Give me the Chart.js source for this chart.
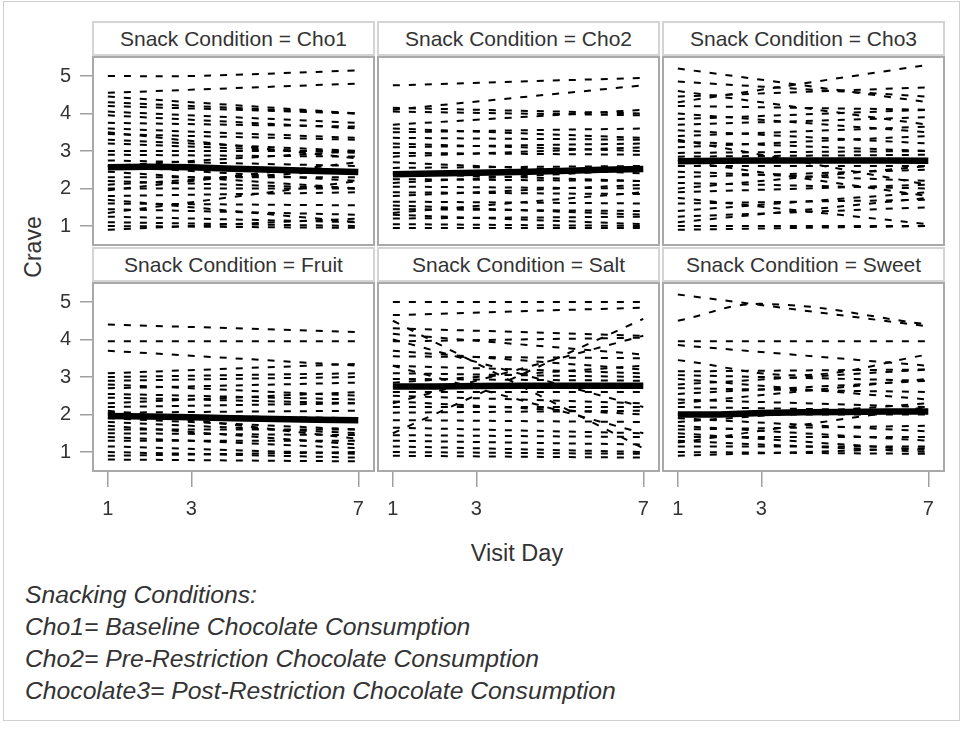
<!DOCTYPE html>
<html>
<head>
<meta charset="utf-8">
<script src="https://cdn.jsdelivr.net/npm/chart.js@4/dist/chart.umd.min.js"></script>
<style>
  body { margin: 0; background: #fff; font-family: "Liberation Sans", Arial, sans-serif; color: #333; }
  #page { position: relative; width: 964px; height: 729px; overflow: hidden; }
  #frame { position: absolute; left: 3px; top: 1px; width: 957px; height: 720px; border: 1px solid #d0d0d0; box-sizing: border-box; }
  .hdr { position: absolute; box-sizing: border-box; border: 2px solid #d4d4d4; background: #fff;
         text-align: center; font-size: 21px; }
  .cell { position: absolute; }
  #ylab { position: absolute; left: 33px; top: 247px; font-size: 23px; transform: translate(-50%, -50%) rotate(-90deg); white-space: nowrap; }
  #xlab { position: absolute; left: 517px; top: 553px; font-size: 23.5px; transform: translate(-50%, -50%); white-space: nowrap; }
  #notes { position: absolute; left: 25px; top: 579px; font-size: 24.7px; font-style: italic; line-height: 32px; }
</style>
</head>
<body>
<div id="page">
  <div id="frame"></div>
  <div id="ylab">Crave</div>
  <div id="xlab">Visit Day</div>
  <div id="notes">
    Snacking Conditions:<br>
    Cho1= Baseline Chocolate Consumption<br>
    Cho2= Pre-Restriction Chocolate Consumption<br>
    Chocolate3= Post-Restriction Chocolate Consumption
  </div>
</div>
<script>
const visitDays = [1, 2, 3, 4, 5, 6, 7];
const dayTicks = [1, 3, 7];
const craveTicks = [1, 2, 3, 4, 5];
const conditions = ["Cho1", "Cho2", "Cho3", "Fruit", "Salt", "Sweet"];

// one subject per pair: crave on day 1, crave on day 7
const cho1Lines = [[4.55,4.8],[4.45,4.0],[4.3,4.0],[4.2,4.0],[4.05,3.75],[3.95,3.6],[3.75,3.65],
  [3.6,3.35],[3.45,3.3],[3.3,3.0],[3.2,2.95],[3.0,3.0],[2.9,2.85],[2.75,2.6],[2.6,2.2],[2.45,2.0],
  [2.3,2.3],[2.2,2.0],[2.0,2.0],[1.95,2.7],[1.8,1.9],[1.7,1.1],[1.6,1.55],[1.45,1.3],[1.35,2.2],
  [1.25,1.1],[1.1,1.0],[1.0,0.95],[0.9,1.2],[2.1,2.5],[2.6,3.0],[3.5,2.8]];
const cho2Lines = [[4.75,4.95],[4.1,4.75],[4.15,4.0],[4.05,3.95],[3.7,4.1],[3.6,3.35],[3.5,3.6],
  [3.35,3.3],[3.2,3.0],[3.1,3.2],[2.95,2.9],[2.85,3.1],[2.7,2.4],[2.55,2.6],[2.4,2.2],[2.25,2.2],
  [2.15,2.5],[2.05,2.0],[1.9,1.85],[1.8,2.1],[1.65,1.6],[1.55,1.3],[1.45,1.4],[1.3,1.05],[1.2,1.25],
  [1.05,1.0],[0.95,0.95],[1.35,1.9]];
const cho3Lines = [[5.2,4.3],[4.3,5.3],[4.85,4.45],[4.6,3.7],[4.45,4.7],[4.2,4.1],[4.0,3.5],
  [3.85,4.1],[3.7,3.9],[3.55,3.2],[3.4,3.65],[3.25,3.0],[3.1,3.4],[2.95,3.0],[2.85,2.9],[2.6,2.6],
  [2.45,2.2],[2.3,2.5],[2.15,2.0],[2.0,2.6],[1.9,2.1],[1.75,1.05],[1.6,1.7],[1.4,1.9],[1.25,1.5],
  [1.1,1.75],[1.0,1.0],[0.9,1.0],[2.75,1.8],[3.3,2.1]];
const fruitLines = [[4.4,4.2],[3.95,3.95],[3.7,3.3],[3.1,3.35],[3.0,3.1],[2.9,3.0],[2.8,2.5],
  [2.7,2.85],[2.55,2.4],[2.45,2.3],[2.3,2.6],[2.2,2.3],[2.05,2.1],[2.0,1.9],[1.9,1.6],[1.8,1.5],
  [1.7,1.2],[1.6,1.6],[1.5,1.45],[1.4,1.1],[1.3,1.3],[1.15,0.95],[1.0,0.85],[0.9,1.0],[0.8,0.75],
  [2.1,1.35]];
const saltLines = [[4.5,1.1],[1.5,4.55],[4.0,2.2],[2.3,4.1],[3.3,1.5],[5.0,5.0],[4.65,4.85],
  [4.3,4.1],[4.15,3.6],[3.95,4.05],[3.7,3.2],[3.55,3.5],[3.3,3.1],[3.1,3.0],[2.95,2.9],[2.6,2.6],
  [2.5,2.3],[2.35,2.0],[2.2,2.2],[2.05,2.1],[1.85,1.8],[1.65,1.5],[1.45,1.4],[1.3,1.2],[1.15,1.0],
  [1.0,0.95],[0.9,0.85],[2.85,3.3]];
const sweetLines = [[5.2,4.35],[3.95,3.95],[3.85,3.3],[3.15,3.2],[3.05,2.9],[2.95,2.4],[2.8,3.2],
  [2.7,2.6],[2.55,2.9],[2.4,2.2],[2.3,2.95],[2.2,2.1],[2.0,2.0],[1.9,1.55],[1.8,2.3],[1.7,1.3],
  [1.6,1.7],[1.5,1.05],[1.4,1.4],[1.3,1.0],[1.15,1.15],[1.0,0.95],[0.9,1.1],[1.25,2.2]];

// subjects whose line bends: [day, crave] points
const cho1Bent = [[[1,5.0],[3,5.0],[7,5.15]]];
const cho2Bent = [];
const cho3Bent = [];
const fruitBent = [];
const saltBent = [];
const sweetBent = [[[1,4.5],[3,4.95],[7,4.4]], [[1,3.45],[4,3.05],[7,3.6]]];

// condition mean by visit day
const cho1Mean = [2.57, 2.58, 2.57, 2.53, 2.5, 2.47, 2.44];
const cho2Mean = [2.38, 2.4, 2.42, 2.44, 2.47, 2.5, 2.52];
const cho3Mean = [2.73, 2.74, 2.75, 2.75, 2.75, 2.75, 2.74];
const fruitMean = [1.96, 1.95, 1.93, 1.9, 1.88, 1.86, 1.85];
const saltMean = [2.75, 2.75, 2.76, 2.77, 2.77, 2.77, 2.77];
const sweetMean = [2.0, 2.0, 2.04, 2.06, 2.07, 2.08, 2.08];

const panels = [
  { lines: cho1Lines, bent: cho1Bent, mean: cho1Mean },
  { lines: cho2Lines, bent: cho2Bent, mean: cho2Mean },
  { lines: cho3Lines, bent: cho3Bent, mean: cho3Mean },
  { lines: fruitLines, bent: fruitBent, mean: fruitMean },
  { lines: saltLines, bent: saltBent, mean: saltMean },
  { lines: sweetLines, bent: sweetBent, mean: sweetMean }
];

const FONT = "'Liberation Sans', Arial, sans-serif";
const colLeft = [92, 377, 662];
const rowTop = [21, 247];
const headH = 35, plotW = 283, plotH = 190;
const axisW = 52, axisH = 60;

// grey box around each plot area
const boxPlugin = {
  id: 'box',
  afterDatasetsDraw(chart) {
    const a = chart.chartArea, ctx = chart.ctx;
    ctx.save();
    ctx.strokeStyle = '#a9a9a9';
    ctx.lineWidth = 2;
    ctx.strokeRect(a.left + 1, a.top + 1, a.right - a.left - 2, a.bottom - a.top - 2);
    ctx.restore();
  }
};

const page = document.getElementById('page');

panels.forEach((p, i) => {
  const r = Math.floor(i / 3), c = i % 3;
  const showY = c === 0, showX = r === 1;

  const hdr = document.createElement('div');
  hdr.className = 'hdr';
  hdr.style.left = colLeft[c] + 'px';
  hdr.style.top = rowTop[r] + 'px';
  hdr.style.width = plotW + 'px';
  hdr.style.height = headH + 'px';
  hdr.style.lineHeight = (headH - 4) + 'px';
  hdr.textContent = 'Snack Condition = ' + conditions[i];
  page.appendChild(hdr);

  const cell = document.createElement('div');
  cell.className = 'cell';
  cell.style.left = (colLeft[c] - (showY ? axisW : 0)) + 'px';
  cell.style.top = (rowTop[r] + headH) + 'px';
  cell.style.width = (plotW + (showY ? axisW : 0)) + 'px';
  cell.style.height = (plotH + (showX ? axisH : 0)) + 'px';
  const cv = document.createElement('canvas');
  cell.appendChild(cv);
  page.appendChild(cell);

  const datasets = [];
  datasets.push({
    data: p.mean.map((v, k) => ({ x: visitDays[k], y: v })),
    borderColor: '#000', borderWidth: 6.5, pointRadius: 0
  });
  p.lines.forEach(l => datasets.push({
    data: [{ x: 1, y: l[0] }, { x: 7, y: l[1] }],
    borderColor: '#000', borderWidth: 2, borderDash: [7, 9], pointRadius: 0
  }));
  p.bent.forEach(b => datasets.push({
    data: b.map(q => ({ x: q[0], y: q[1] })),
    borderColor: '#000', borderWidth: 2, borderDash: [7, 9], pointRadius: 0, tension: 0.4
  }));

  new Chart(cv, {
    type: 'line',
    data: { datasets },
    options: {
      responsive: true,
      maintainAspectRatio: false,
      animation: false,
      layout: { padding: 0 },
      plugins: { legend: { display: false }, tooltip: { enabled: false } },
      scales: {
        x: {
          type: 'linear', min: 0.62, max: 7.4, display: showX,
          afterFit: s => { s.height = showX ? axisH : 0; s.paddingLeft = 0; s.paddingRight = 0; },
          afterBuildTicks: s => { s.ticks = dayTicks.map(v => ({ value: v })); },
          grid: { drawOnChartArea: false, tickLength: 15, color: '#a0a0a0', lineWidth: 1.5 },
          border: { display: false },
          ticks: { color: '#333', font: { family: FONT, size: 20 }, padding: 10, maxRotation: 0, autoSkip: false }
        },
        y: {
          min: 0.467, max: 5.533, display: showY,
          afterFit: s => { s.width = showY ? axisW : 0; s.paddingTop = 0; s.paddingBottom = 0; },
          afterBuildTicks: s => { s.ticks = craveTicks.map(v => ({ value: v })); },
          grid: { drawOnChartArea: false, tickLength: 12, color: '#a0a0a0', lineWidth: 1.5 },
          border: { display: false },
          ticks: { color: '#333', font: { family: FONT, size: 20 }, padding: 9, autoSkip: false }
        }
      }
    },
    plugins: [boxPlugin]
  });
});
</script>
</body>
</html>
